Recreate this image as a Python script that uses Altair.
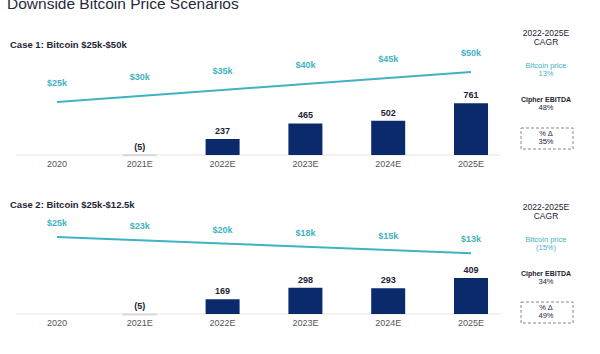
import altair as alt
import pandas as pd

title = "Downside Bitcoin Price Scenarios"
case_titles = ["Case 1: Bitcoin $25k-$50k", "Case 2: Bitcoin $25k-$12.5k"]
categories = ["2020", "2021E", "2022E", "2023E", "2024E", "2025E"]

btc1 = [25, 30, 35, 40, 45, 50]
btc1_lbl = ["$25k", "$30k", "$35k", "$40k", "$45k", "$50k"]
ebitda1 = [None, -5, 237, 465, 502, 761]
ebitda1_lbl = ["", "(5)", "237", "465", "502", "761"]

btc2 = [25, 22.5, 20, 17.5, 15, 12.5]
btc2_lbl = ["$25k", "$23k", "$20k", "$18k", "$15k", "$13k"]
ebitda2 = [None, -5, 169, 298, 293, 409]
ebitda2_lbl = ["", "(5)", "169", "298", "293", "409"]

cagr_head = ["2022-2025E", "CAGR"]
cagr_btc = ["13%", "(15%)"]
cagr_ebitda = ["48%", "34%"]
delta = ["35%", "49%"]

FONT = "Liberation Sans"
NAVY = "#0b2a6c"
TEAL = "#3fb3c2"
DARK = "#1d2433"

x_enc = alt.X("cat:N", scale=alt.Scale(type="point", domain=categories, range=[57, 471], padding=0), axis=None)
one = alt.Data(values=[{}])


def txt(s, x, y, size=8.5, color=DARK, weight="normal", align="center"):
    return alt.Chart(one).mark_text(
        text=s, font=FONT, fontSize=size, color=color, fontWeight=weight, align=align, baseline="middle"
    ).encode(x=alt.value(x), y=alt.value(y))


def panel(i, base, btc, btc_lbl, ebitda, ebitda_lbl, bar_range, btc_dom, btc_range, lbl_dy, ann_y, case_y):
    df = pd.DataFrame({"cat": categories, "v": ebitda, "lbl": ebitda_lbl, "b": btc, "bl": btc_lbl})
    dfb = df.dropna(subset=["v"]).copy()
    dfb["ly"] = dfb["v"].clip(lower=0)
    ysc = alt.Scale(domain=[0, 1000], range=bar_range)
    bsc = alt.Scale(domain=btc_dom, range=btc_range)
    axis_line = alt.Chart(one).mark_rule(color="#e4e4e4", strokeWidth=1).encode(
        x=alt.value(16), x2=alt.value(500), y=alt.value(base))
    bars = alt.Chart(dfb).transform_filter("datum.v > 0").mark_bar(size=34, color=NAVY).encode(
        x=x_enc, y=alt.Y("v:Q", scale=ysc, axis=None))
    neg = alt.Chart(dfb).transform_filter("datum.v < 0").mark_tick(
        size=34, thickness=2, color="#cfcfcf", orient="horizontal").encode(
        x=x_enc, y=alt.Y("v:Q", scale=ysc, axis=None))
    blabels = alt.Chart(dfb).mark_text(
        font=FONT, fontSize=9, fontWeight="bold", color=DARK, dy=-8, baseline="middle").encode(
        x=x_enc, y=alt.Y("ly:Q", scale=ysc, axis=None), text="lbl:N")
    line = alt.Chart(df).mark_line(color=TEAL, strokeWidth=2).encode(
        x=x_enc, y=alt.Y("b:Q", scale=bsc, axis=None))
    llabels = alt.Chart(df).mark_text(
        font=FONT, fontSize=9, fontWeight="bold", color=TEAL, dy=-lbl_dy, baseline="middle").encode(
        x=x_enc, y=alt.Y("b:Q", scale=bsc, axis=None), text="bl:N")
    cats = alt.Chart(df).mark_text(font=FONT, fontSize=9, color="#555555", baseline="middle").encode(
        x=x_enc, y=alt.value(base + 9), text="cat:N")
    y0 = ann_y
    box = alt.Chart(one).mark_rect(fill=None, stroke="#888888", strokeWidth=1, strokeDash=[3, 2]).encode(
        x=alt.value(521), x2=alt.value(573), y=alt.value(y0 + 95), y2=alt.value(y0 + 116))
    ann = [
        txt(case_titles[i], 10, case_y, size=9.5, weight="bold", align="left"),
        txt(cagr_head[0], 546, y0, size=8.5),
        txt(cagr_head[1], 546, y0 + 9, size=8.5),
        txt("Bitcoin price", 546, y0 + 33, size=7.5, color=TEAL),
        txt(cagr_btc[i], 546, y0 + 41, size=7.5, color=TEAL),
        txt("Cipher EBITDA", 546, y0 + 67, size=7, weight="bold"),
        txt(cagr_ebitda[i], 546, y0 + 75, size=7.5),
        txt("% \u0394", 546, y0 + 101, size=7.5),
        txt(delta[i], 546, y0 + 109, size=7.5),
        box,
    ]
    return [axis_line, bars, neg, blabels, line, llabels, cats] + ann


layers = [txt(title, 7, 4, size=15.5, color="#1f2a3c", align="left")]
layers += panel(0, 155, btc1, btc1_lbl, ebitda1, ebitda1_lbl, [155, 87], [0, 50], [132, 72], 19, 33, 45)
layers += panel(1, 314, btc2, btc2_lbl, ebitda2, ebitda2_lbl, [314, 226], [0, 25], [269.5, 237], 14, 207, 205)

chart = alt.layer(*layers).resolve_scale(y="independent").properties(
    width=600, height=354, padding=0, autosize=alt.AutoSizeParams(type="none"),
    background="white",
).configure_view(stroke=None)

chart.save("out.html", embed_options={"renderer": "svg", "actions": False})
